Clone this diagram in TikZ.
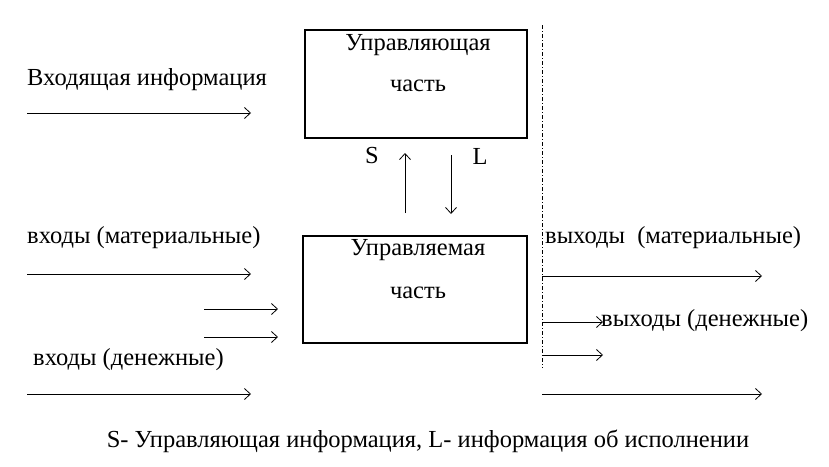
\documentclass[tikz,border=0pt]{standalone}
\usepackage{fontspec}
\setmainfont{Liberation Serif}
\usetikzlibrary{arrows.meta}
\begin{document}
\begin{tikzpicture}[x=1pt,y=-1pt,
  lbl/.style={inner sep=0pt,font=\fontsize{24.5}{27}\selectfont},
  blk/.style={draw,line width=1.2pt},
  flow/.style={-{Straight Barb[length=6pt,width=11pt]},line width=0.8pt}]
\useasboundingbox (0,0) rectangle (829,466);
% boxes
\draw[blk] (305,30) rectangle (527,138);
\node[lbl] (u1) at (418,45) {Управляющая};
\node[lbl] (u2) at (418,86) {часть};
\draw[blk] (303,236) rectangle (527,343);
\node[lbl] (m1) at (418,250) {Управляемая};
\node[lbl] (m2) at (418,293) {часть};
\node[lbl] (S) at (372,156) {S};
\node[lbl] (L) at (480,156) {L};
\coordinate (sa) at (405,213); \coordinate (sb) at (405,153);
\coordinate (la) at (451,155); \coordinate (lb) at (451,214);
\draw[flow] (sa) -- (sb);
\draw[flow] (la) -- (lb);
% divider
\coordinate (d1) at (542,25); \coordinate (d2) at (542,368);
\draw[line width=0.8pt,dash pattern=on 4pt off 2pt on 1pt off 2pt] (d1) -- (d2);
% left side
\node[lbl,anchor=west] (vi) at (27,80) {Входящая информация};
\coordinate (a1) at (27,113); \coordinate (b1) at (251,113);
\draw[flow] (a1) -- (b1);
\node[lbl,anchor=west] (vm) at (27,238) {входы (материальные)};
\coordinate (a2) at (27,274); \coordinate (b2) at (251,274);
\draw[flow] (a2) -- (b2);
\coordinate (a3) at (204,309); \coordinate (b3) at (278,309);
\draw[flow] (a3) -- (b3);
\coordinate (a4) at (204,337); \coordinate (b4) at (278,337);
\draw[flow] (a4) -- (b4);
\node[lbl,anchor=west] (vd) at (33,360) {входы (денежные)};
\coordinate (a5) at (27,394); \coordinate (b5) at (251,394);
\draw[flow] (a5) -- (b5);
% right side
\node[lbl,anchor=west] (om) at (545,238) {выходы\ \ (материальные)};
\coordinate (c1) at (542,276); \coordinate (e1) at (762,276);
\draw[flow] (c1) -- (e1);
\coordinate (c2) at (542,322); \coordinate (e2) at (603,322);
\draw[flow] (c2) -- (e2);
\node[lbl,anchor=west] (od) at (601,321) {выходы (денежные)};
\coordinate (c3) at (542,355); \coordinate (e3) at (603,355);
\draw[flow] (c3) -- (e3);
\coordinate (c4) at (542,394); \coordinate (e4) at (762,394);
\draw[flow] (c4) -- (e4);
% caption
\node[lbl] (cap) at (428,441) {S- Управляющая информация, L- информация об исполнении};
\end{tikzpicture}
\end{document}
